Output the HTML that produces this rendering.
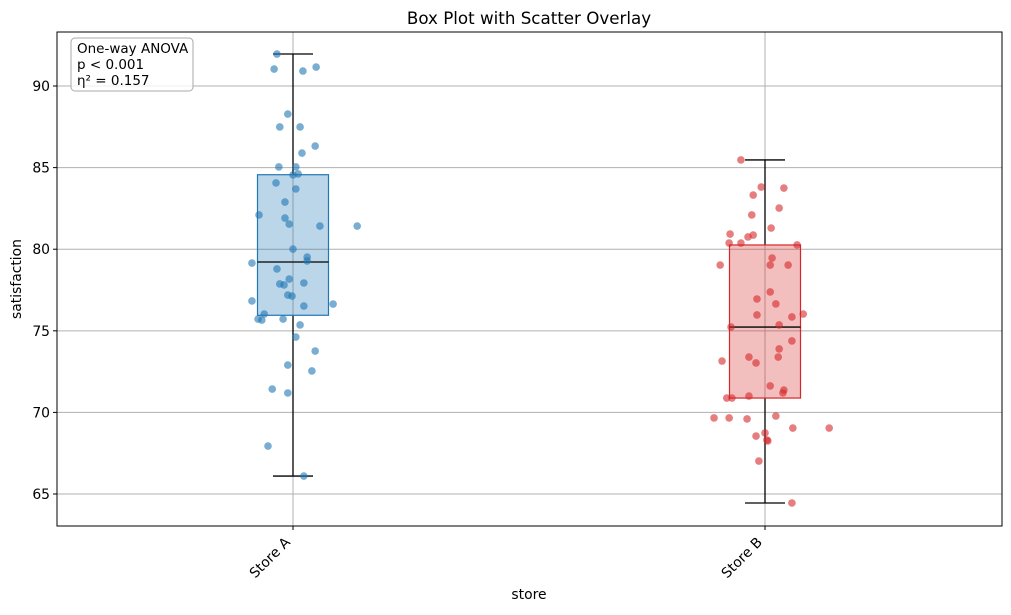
<!DOCTYPE html>
<html><head><meta charset="utf-8"><style>
body{margin:0;background:#fff;font-family:"DejaVu Sans","Liberation Sans",sans-serif;}
</style></head><body>
<svg id="chart" width="1011" height="611" xmlns="http://www.w3.org/2000/svg" font-family="DejaVu Sans, Liberation Sans, sans-serif">
<text x="529" y="24" text-anchor="middle" font-size="16.7">Box Plot with Scatter Overlay</text>
<g id="grid"></g><g id="marks"></g><g id="axes"></g>
<text x="529" y="599" text-anchor="middle" font-size="13.9">store</text>
<text transform="translate(21,279) rotate(-90)" text-anchor="middle" font-size="13.9">satisfaction</text>
<g>
<rect x="71" y="38" width="122" height="53" rx="4" fill="#fff" fill-opacity="0.8" stroke="#aaa"/>
<text x="77" y="53" font-size="13.5">One-way ANOVA</text>
<text x="77" y="69" font-size="13.5">p &lt; 0.001</text>
<text x="77" y="85" font-size="13.5">η² = 0.157</text>
</g>
</svg>
<script>
const categories=["Store A","Store B"];
const colors=["#1f77b4","#d62728"];
const yTicks=[65,70,75,80,85,90];
const valuesA=[91.96,91.04,90.92,91.16,88.28,87.49,87.49,85.89,86.32,85.04,85.04,84.55,84.61,84.06,83.69,82.89,82.10,81.91,81.54,81.42,81.42,80.01,79.15,79.52,79.28,78.79,77.87,77.81,78.17,77.93,76.83,77.19,77.13,76.52,76.64,76.03,75.72,75.66,75.72,75.36,74.62,73.76,72.54,72.90,71.43,71.19,67.94,66.10];
const jitterA=[-.034,-.040,.021,.049,-.011,-.028,.015,.019,.047,-.030,.006,0,.011,-.036,.006,-.017,-.072,-.017,-.008,.057,.136,0,-.087,.030,.030,-.034,-.028,-.019,-.008,.023,-.087,-.011,-.002,.023,.085,-.061,-.074,-.066,-.021,.015,.006,.047,.040,-.011,-.044,-.011,-.053,.023];
const valuesB=[85.47,83.75,83.32,83.81,82.52,82.10,81.30,80.93,80.38,80.38,80.75,80.87,80.26,79.03,79.46,79.03,79.03,77.38,76.95,76.65,75.97,75.85,76.03,75.23,75.36,74.38,73.89,73.39,73.15,73.39,73.03,71.62,71.37,71.19,70.88,70.88,71.00,69.66,69.66,69.60,69.78,68.55,68.74,68.31,68.25,69.04,69.04,67.02,64.45];
const jitterB=[-.051,.040,-.025,-.008,.030,-.028,.013,-.074,-.076,-.051,-.036,-.025,.068,-.095,.015,.011,.049,.011,-.017,.023,-.017,.057,.081,-.072,.030,.057,.030,.028,-.091,-.034,-.019,.011,.040,.038,-.081,-.070,-.034,-.108,-.076,-.038,.023,-.019,0,.004,.006,.059,.136,-.013,.057];
const series=[{v:valuesA,j:jitterA},{v:valuesB,j:jitterB}];

const L=57,R=1002,T=32,B=526,yMin=63.04,yMax=93.31;
const y=v=>B-(v-yMin)/(yMax-yMin)*(B-T);
const x=c=>293+c*472;
const NS="http://www.w3.org/2000/svg";
function mk(tag,attrs,parent){const e=document.createElementNS(NS,tag);for(const k in attrs)e.setAttribute(k,attrs[k]);parent.appendChild(e);return e;}
const grid=document.getElementById('grid'),marks=document.getElementById('marks'),axes=document.getElementById('axes');
function q(a,p){const s=[...a].sort((m,n)=>m-n);const i=(s.length-1)*p,lo=Math.floor(i),hi=Math.ceil(i);return s[lo]+(s[hi]-s[lo])*(i-lo);}

yTicks.forEach(t=>{
  const g=mk('line',{x1:L,x2:R,y1:y(t),y2:y(t),stroke:'#b0b0b0','stroke-width':1},grid);
  
  
  mk('line',{x1:L-4,x2:L,y1:y(t),y2:y(t),stroke:'#000'},axes);
  const tx=mk('text',{x:L-7,y:y(t)+5,'text-anchor':'end','font-size':13.9},axes);
  tx.textContent=t;
  
  
});
categories.forEach((c,i)=>{
  const cx=x(i);
  const g=mk('line',{x1:cx,x2:cx,y1:T,y2:B,stroke:'#b0b0b0'},grid);
  
  
  mk('line',{x1:cx,x2:cx,y1:B,y2:B+4,stroke:'#000'},axes);
  const tx=mk('text',{transform:`translate(${cx-2},${B+17}) rotate(-45)`,'text-anchor':'end','font-size':13.9},axes);
  tx.textContent=c;
  
  

  const v=series[i].v,q1=q(v,.25),q3=q(v,.75),med=q(v,.5),iqr=q3-q1;
  const lo=Math.min(...v.filter(d=>d>=q1-1.5*iqr)),hi=Math.max(...v.filter(d=>d<=q3+1.5*iqr));
  const grp=mk('g',{},marks);
  
  
  mk('line',{x1:cx,x2:cx,y1:y(hi),y2:y(q3),stroke:'#000','stroke-width':1.3},grp);
  mk('line',{x1:cx,x2:cx,y1:y(q1),y2:y(lo),stroke:'#000','stroke-width':1.3},grp);
  mk('line',{x1:cx-20,x2:cx+20,y1:y(hi),y2:y(hi),stroke:'#000','stroke-width':1.3},grp);
  mk('line',{x1:cx-20,x2:cx+20,y1:y(lo),y2:y(lo),stroke:'#000','stroke-width':1.3},grp);
  mk('rect',{x:cx-35.5,y:y(q3),width:71,height:y(q1)-y(q3),fill:colors[i],'fill-opacity':0.3,stroke:colors[i],'stroke-width':1.2},grp);
  mk('line',{x1:cx-35.5,x2:cx+35.5,y1:y(med),y2:y(med),stroke:'#000','stroke-width':1.3},grp);
  v.forEach((d,k)=>{
    const p=mk('circle',{cx:x(i+series[i].j[k]),cy:y(d),r:3.8,fill:colors[i],'fill-opacity':0.6},marks);
    
    
  });
});
const fr=mk('rect',{x:L,y:T,width:R-L,height:B-T,fill:'none',stroke:'#000','stroke-width':1},axes);


</script>
</body></html>
